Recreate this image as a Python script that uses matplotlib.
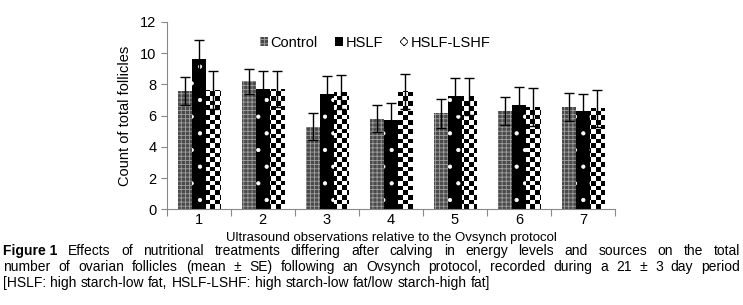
import numpy as np
import matplotlib
matplotlib.use("Agg")
import matplotlib.pyplot as plt
from matplotlib.patches import Patch

# data
groups = ["1", "2", "3", "4", "5", "6", "7"]
control = [7.55, 8.2, 5.3, 5.8, 6.15, 6.3, 6.55]
control_se = [0.9, 0.82, 0.88, 0.86, 0.92, 0.88, 0.9]
hslf = [9.65, 7.7, 7.4, 5.72, 7.25, 6.68, 6.28]
hslf_se = [1.18, 1.15, 1.12, 1.1, 1.15, 1.13, 1.1]
lshf = [7.65, 7.72, 7.5, 7.55, 7.23, 6.56, 6.47]
lshf_se = [1.2, 1.14, 1.08, 1.1, 1.17, 1.2, 1.18]
series_names = ["Control", "HSLF", "HSLF-LSHF"]

caption = [
    [("Figure 1", "bold")] + [(w, "normal") for w in
     "Effects of nutritional treatments differing after calving in energy levels and sources on the total".split()],
    [(w, "normal") for w in
     "number of ovarian follicles (mean ± SE) following an Ovsynch protocol, recorded during a 21 ± 3 day period".split()],
    [(w, "normal") for w in
     "[HSLF: high starch-low fat, HSLF-LSHF: high starch-low fat/low starch-high fat]".split()],
]

plt.rcParams['font.family'] = ['Liberation Sans', 'DejaVu Sans']
plt.rcParams['hatch.linewidth'] = 0.6

fig = plt.figure(figsize=(7.43, 3.05), dpi=100)
ax = fig.add_axes([0.2244, 0.3138, 0.6033, 0.6141])

x = np.arange(len(groups))
w = 0.22
ekw = dict(ecolor="black", elinewidth=1, capsize=3.5, capthick=1)

b1 = ax.bar(x - w, control, w, yerr=control_se, color="#4a4a4a", edgecolor="#a0a0a0",
            hatch="++++", linewidth=0, error_kw=ekw, zorder=2)
b2 = ax.bar(x, hslf, w, yerr=hslf_se, color="black", edgecolor="white",
            hatch=".", linewidth=0, error_kw=ekw, zorder=2)
b3 = ax.bar(x + w, lshf, w, yerr=lshf_se, color="white", edgecolor="black",
            hatch="xx", linewidth=0, error_kw=ekw, zorder=2)

ax.set_xlim(-0.5, len(groups) - 0.5)
ax.set_ylim(0, 12)

# checkerboard fill for the third series
ny, nx = 40, 95
checker = (np.add.outer(np.arange(ny), np.arange(nx)) % 2).astype(float)
for bar in b3:
    im = ax.imshow(checker, cmap="gray", extent=(-0.5, len(groups) - 0.5, 0, 12),
                   aspect="auto", interpolation="nearest", zorder=2.5)
    im.set_clip_path(bar)
# keep error bars on top
for eb in (b1.errorbar, b2.errorbar, b3.errorbar):
    for art in eb.lines[1] + eb.lines[2]:
        art.set_zorder(4)

ax.set_yticks(range(0, 13, 2))
ax.set_xticks(np.arange(-0.5, len(groups)), labels=[])
ax.set_xticks(x, labels=groups, minor=True)
ax.tick_params(axis="x", which="major", length=5, color="#888888")
ax.tick_params(axis="x", which="minor", length=0, pad=3, labelsize=10.5)
ax.tick_params(axis="y", length=4, color="#888888", labelsize=10.5)
for s in ("top", "right"):
    ax.spines[s].set_visible(False)
for s in ("left", "bottom"):
    ax.spines[s].set_color("#888888")

ax.set_ylabel("Count of total follicles", fontsize=10.5, labelpad=6)
fig.text(0.527, 1 - 237.5 / 305, "Ultrasound observations relative to the Ovsynch protocol",
         ha="center", va="center", fontsize=9.5)

handles = [Patch(facecolor="#4a4a4a", edgecolor="#a0a0a0", hatch="++++", linewidth=0),
           Patch(facecolor="black", edgecolor="white", hatch=".", linewidth=0),
           Patch(facecolor="white", edgecolor="black", hatch="xxxx", linewidth=0)]
fig.legend(handles, series_names, loc="center", bbox_to_anchor=(0.505, 0.859), ncol=3,
           frameon=False, fontsize=10.5, handlelength=0.55, handleheight=0.55,
           handletextpad=0.15, columnspacing=1.2)

# justified caption
renderer = fig.canvas.get_renderer()
x0, x1 = 3 / 743, 740 / 743
ys = [1 - 251 / 305, 1 - 267 / 305, 1 - 283 / 305]
for li, line in enumerate(caption):
    texts = [fig.text(0, ys[li], t, fontsize=10, weight=wt, va="center")
             for t, wt in line]
    widths = [t.get_window_extent(renderer).width / fig.bbox.width for t in texts]
    if li < len(caption) - 1:
        gap = (x1 - x0 - sum(widths)) / (len(texts) - 1)
    else:
        gap = 0.0055
    pos = x0
    for t, wd in zip(texts, widths):
        t.set_x(pos)
        pos += wd + gap

fig.savefig("out.png", dpi=100)
